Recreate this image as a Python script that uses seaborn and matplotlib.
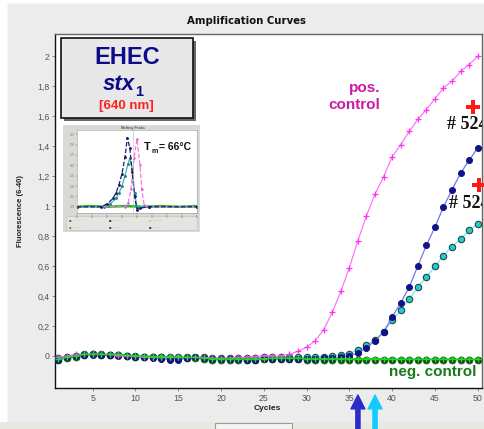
import numpy as np
import pandas as pd
import matplotlib.pyplot as plt
import seaborn as sns
from matplotlib.patches import Rectangle

# --- data ---
cycles = list(range(1, 51))

pos_control = [-0.01, 0.0, 0.01, 0.01, 0.01, 0.01, 0.01, 0.0, 0.0, 0.0,
               -0.01, -0.01, -0.01, -0.01, -0.01, -0.01, -0.01, -0.01, -0.015, -0.015,
               -0.015, -0.01, -0.01, -0.005, 0.0, 0.0, 0.0, 0.01, 0.03, 0.058,
               0.10, 0.174, 0.29, 0.43, 0.59, 0.77, 0.936, 1.08, 1.197, 1.33,
               1.41, 1.50, 1.58, 1.645, 1.717, 1.79, 1.835, 1.90, 1.946, 2.0]

sample_blue = [-0.025, -0.01, 0.0, 0.005, 0.005, 0.005, 0.005, 0.0, 0.0, -0.005,
               -0.01, -0.015, -0.02, -0.028, -0.028, -0.015, -0.01, -0.015, -0.02, -0.02,
               -0.02, -0.02, -0.025, -0.025, -0.02, -0.02, -0.02, -0.02, -0.02, -0.02,
               -0.02, -0.015, -0.015, -0.01, 0.0, 0.02, 0.055, 0.10, 0.16, 0.26,
               0.354, 0.46, 0.60, 0.738, 0.86, 0.995, 1.11, 1.22, 1.306, 1.39]

sample_cyan = [-0.015, -0.005, 0.0, 0.01, 0.01, 0.01, 0.005, 0.005, 0.0, 0.0,
               -0.005, -0.01, -0.01, -0.01, -0.01, -0.01, -0.01, -0.01, -0.015, -0.015,
               -0.015, -0.015, -0.015, -0.015, -0.01, -0.01, -0.01, -0.01, -0.01, -0.01,
               -0.005, -0.005, 0.0, 0.005, 0.015, 0.04, 0.07, 0.107, 0.158, 0.236,
               0.307, 0.38, 0.46, 0.526, 0.597, 0.67, 0.73, 0.78, 0.838, 0.88]

neg_control = [-0.02, -0.01, 0.0, 0.01, 0.01, 0.01, 0.01, 0.01, 0.005, 0.0,
               0.0, -0.005, -0.005, -0.01, -0.01, -0.01, -0.01, -0.015, -0.02, -0.02,
               -0.02, -0.02, -0.02, -0.02, -0.02, -0.015, -0.015, -0.015, -0.015, -0.02,
               -0.02, -0.02, -0.02, -0.02, -0.02, -0.02, -0.02, -0.02, -0.02, -0.022,
               -0.022, -0.022, -0.022, -0.022, -0.022, -0.022, -0.022, -0.022, -0.022, -0.022]

neg_control_2 = [-0.025, -0.015, -0.005, 0.005, 0.01, 0.005, 0.005, 0.005, 0.0, -0.005,
                 -0.005, -0.01, -0.01, -0.015, -0.015, -0.015, -0.015, -0.02, -0.025, -0.025,
                 -0.025, -0.025, -0.025, -0.025, -0.02, -0.02, -0.02, -0.02, -0.02, -0.025,
                 -0.025, -0.025, -0.025, -0.025, -0.025, -0.025, -0.025, -0.025, -0.025, -0.025,
                 -0.025, -0.025, -0.025, -0.025, -0.025, -0.025, -0.025, -0.025, -0.025, -0.025]

y_ticks = [0, 0.2, 0.4, 0.6, 0.8, 1.0, 1.2, 1.4, 1.6, 1.8, 2.0]
y_tick_labels = ['0', '0,2', '0,4', '0,6', '0,8', '1', '1,2', '1,4', '1,6', '1,8', '2']
x_ticks = [5, 10, 15, 20, 25, 30, 35, 40, 45, 50]

ct_blue = 36.0
ct_cyan = 38.0

# melting peak inset (small screenshot in the reference)
melt_temp_blue = [46, 54, 56, 58, 59, 60, 61, 62, 62.8, 63.6, 64.4, 65.2, 66, 67, 70, 86]
melt_blue = [0, 0.0, 0.04, 0.12, 0.2, 0.32, 0.48, 0.72, 1.0, 0.85, 0.5, 0.15, -0.04, -0.02, 0, 0]
melt_temp_cyan = [46, 55, 57, 59, 60, 61, 62, 63, 63.6, 64.4, 65.2, 66, 70, 86]
melt_cyan = [0, 0, 0.04, 0.12, 0.2, 0.3, 0.45, 0.62, 0.7, 0.55, 0.2, 0.0, 0, 0]
melt_temp_pink = [46, 62, 63, 64, 65, 66, 67, 67.6, 68.4, 70, 86]
melt_pink = [0, 0, 0.05, 0.25, 0.7, 0.98, 0.6, 0.25, 0.02, 0, 0]
melt_temp_green = [46, 50, 56, 62, 68, 74, 80, 86]
melt_green = [0.0, 0.01, 0.0, 0.01, 0.0, 0.01, 0.0, 0.01]

sns.set_style('white')
plt.rcParams['font.family'] = ['Liberation Sans', 'DejaVu Sans']

W, H = 485, 429
fig = plt.figure(figsize=(W / 100, H / 100), dpi=100, facecolor='white')

def fx(px):
    return px / W

def fy(py):
    return 1 - py / H

# window panel background (kept below the axes)
fig.patches.append(Rectangle((fx(7), fy(422)), 1 - fx(7), fy(3) - fy(422),
                             transform=fig.transFigure, facecolor='#ececec',
                             edgecolor='#f6f6f6', lw=1, zorder=-3))
fig.patches.append(Rectangle((0, 0), 1, fy(422), transform=fig.transFigure,
                             facecolor='#e9e9e1', edgecolor='none', zorder=-3))
fig.patches.append(Rectangle((fx(215), 0), fx(77), fy(423), transform=fig.transFigure,
                             facecolor='#f4f4f4', edgecolor='#9a9a9a', lw=0.8, zorder=-2))

fig.text(fx(247), fy(21), 'Amplification Curves', ha='center', va='center',
         fontsize=7.3, fontweight='bold', family='DejaVu Sans', color='#111111')

ax = fig.add_axes([fx(55), fy(388), fx(427), fy(34) - fy(388)])
ax.set_facecolor('white')

sns.lineplot(x=cycles, y=neg_control_2, ax=ax, color='#33cc33', lw=0.9,
             marker='o', markersize=5, markerfacecolor='#1e3a1e',
             markeredgecolor='#1a7a1a', markeredgewidth=0.6, zorder=3)
sns.lineplot(x=cycles, y=sample_cyan, ax=ax, color='#66eeee', lw=0.9,
             marker='o', markersize=4.6, markerfacecolor='#22cccc',
             markeredgecolor='#2a4444', markeredgewidth=0.8, zorder=4)
sns.lineplot(x=cycles, y=sample_blue, ax=ax, color='#7777ee', lw=0.9,
             marker='o', markersize=4.4, markerfacecolor='#10109a',
             markeredgecolor='#10106a', markeredgewidth=0.6, zorder=5)
sns.lineplot(x=cycles, y=pos_control, ax=ax, color='#ff66ff', lw=0.8,
             marker='+', markersize=5, markeredgecolor='#ff33ee',
             markeredgewidth=0.9, zorder=6)
sns.lineplot(x=cycles, y=neg_control, ax=ax, color='#22cc22', lw=1.0,
             marker='+', markersize=5, markeredgecolor='#22dd22',
             markeredgewidth=1.0, zorder=7)

ax.set_xlim(0.6, 50.5)
ax.set_ylim(-0.215, 2.15)
ax.set_xticks(x_ticks)
ax.set_yticks(y_ticks)
ax.set_yticklabels(y_tick_labels)
ax.tick_params(axis='both', labelsize=6.3, labelcolor='#555555', length=2.5,
               width=0.6, color='#777777', pad=1.5, direction='out',
               left=True, bottom=True)
for side in ['left', 'bottom']:
    ax.spines[side].set_color('#111111')
    ax.spines[side].set_linewidth(1.0)
for side in ['top', 'right']:
    ax.spines[side].set_color('#666666')
    ax.spines[side].set_linewidth(1.0)
ax.set_xlabel('')
ax.set_ylabel('')

fig.text(fx(267), fy(409), 'Cycles', ha='center', va='center', fontsize=6,
         fontweight='bold', color='#222222')
fig.text(fx(21), fy(211), 'Fluorescence (6-40)', ha='center', va='center',
         rotation=90, fontsize=5.5, fontweight='bold', color='#222222')

# annotations inside the plot
ax.text(38.6, 1.79, 'pos.', ha='right', va='center', fontsize=11,
        fontweight='bold', color='#cc1aa6')
ax.text(38.6, 1.675, 'control', ha='right', va='center', fontsize=11,
        fontweight='bold', color='#cc1aa6')
ax.text(49.8, -0.105, 'neg. control', ha='right', va='center', fontsize=11,
        fontweight='bold', color='#1a7a1a')
ax.plot([49.5], [1.665], marker='P', markersize=9.5, color='#ff1a1a',
        markeredgewidth=0, clip_on=False, zorder=8)
ax.plot([50.1], [1.14], marker='P', markersize=9.5, color='#ff1a1a',
        markeredgewidth=0, clip_on=False, zorder=8)
# sample labels run past the right frame and are cut there, as in the source
ax.text(46.4, 1.545, '# 524', ha='left', va='center', fontsize=13,
        fontweight='bold', family='Liberation Serif', color='#111111', clip_on=True)
ax.text(46.6, 1.02, '# 524', ha='left', va='center', fontsize=13,
        fontweight='bold', family='Liberation Serif', color='#111111', clip_on=True)

# Ct arrows below the axis
for ct, col in [(ct_blue, '#2b2bc8'), (ct_cyan, '#11ccff')]:
    ax.annotate('', xy=(ct, fy(395)), xytext=(ct, 0.0),
                xycoords=('data', 'figure fraction'),
                textcoords=('data', 'figure fraction'),
                arrowprops=dict(facecolor=col, edgecolor=col, width=3.0,
                                headwidth=10, headlength=10),
                annotation_clip=False)

# EHEC label box with shadow
bx, by, bw, bh = fx(61), fy(118), fx(132), fy(38) - fy(118)
fig.patches.append(Rectangle((bx + fx(3), by - (fy(0) - fy(3))), bw, bh,
                             transform=fig.transFigure, facecolor='#6a6a6a',
                             edgecolor='none', zorder=5))
fig.patches.append(Rectangle((bx, by), bw, bh, transform=fig.transFigure,
                             facecolor='#e8e8e8', edgecolor='#111111', lw=1.2, zorder=6))
fig.text(fx(127), fy(57), 'EHEC', ha='center', va='center', fontsize=17,
         fontweight='bold', color='#0c0c8a', zorder=7)
fig.text(fx(135), fy(84), 'stx', ha='right', va='center', fontsize=16,
         fontweight='bold', fontstyle='italic', color='#0c0c8a', zorder=7)
fig.text(fx(135.5), fy(92), '1', ha='left', va='center', fontsize=10.5,
         fontweight='bold', color='#0c0c8a', zorder=7)
fig.text(fx(126), fy(106), '[640 nm]', ha='center', va='center', fontsize=9.5,
         fontweight='bold', color='#ff2020', zorder=7)

# melting peak screenshot inset
fig.patches.append(Rectangle((fx(63), fy(232)), fx(137), fy(125) - fy(232),
                             transform=fig.transFigure, facecolor='#d9d9d6',
                             edgecolor='none', zorder=5))
fig.patches.append(Rectangle((fx(66), fy(230)), fx(131), fy(216) - fy(230),
                             transform=fig.transFigure, facecolor='#e4e4e0',
                             edgecolor='#bdbdbd', lw=0.4, zorder=5))
fig.text(fx(133), fy(128), 'Melting Peaks', ha='center', va='center',
         fontsize=2.5, fontweight='bold', color='#555555', zorder=6)
ins = fig.add_axes([fx(77), fy(213), fx(120), fy(130) - fy(213)], zorder=6)
ins.set_facecolor('white')
sns.lineplot(x=melt_temp_green, y=melt_green, ax=ins, color='#22bb22', lw=1.8)
sns.lineplot(x=melt_temp_cyan, y=melt_cyan, ax=ins, color='#33bbbb', lw=0.9,
             marker='.', markersize=2.5, markeredgecolor='#227777')
sns.lineplot(x=melt_temp_pink, y=melt_pink, ax=ins, color='#ff77dd', lw=0.9,
             ls='--', marker='.', markersize=2, markeredgecolor='#ee55cc')
sns.lineplot(x=melt_temp_blue, y=melt_blue, ax=ins, color='#1a1a70', lw=0.9,
             ls='--', marker='.', markersize=2.5, markeredgecolor='#1a1a60')
ins.axvline(64.5, color='#bbbbbb', lw=0.4)
ins.set_xlim(46, 86)
ins.set_ylim(-0.09, 1.11)
ins.set_xticks([46, 51, 56, 61, 66, 71, 76, 81, 86])
ins.set_yticks([0, 0.15, 0.3, 0.45, 0.6, 0.75, 0.9, 1.05])
ins.tick_params(labelsize=1.8, labelcolor='#777777', length=1, width=0.3, pad=0.5,
                left=True, bottom=True)
for s in ins.spines.values():
    s.set_color('#999999')
    s.set_linewidth(0.4)
ins.set_xlabel('')
ins.set_ylabel('')
ins.text(0.56, 0.8, 'T', transform=ins.transAxes, ha='left', va='center',
         fontsize=8, fontweight='bold', color='#111111')
ins.text(0.625, 0.74, 'm', transform=ins.transAxes, ha='left', va='center',
         fontsize=5, fontweight='bold', color='#111111')
ins.text(0.68, 0.8, '= 66°C', transform=ins.transAxes, ha='left', va='center',
         fontsize=7.5, fontweight='bold', color='#111111')

# tiny legend dots in the screenshot strip
legend_x = [70, 70, 110, 110, 150, 150]
legend_y = [220, 227, 220, 227, 220, 227]
legend_c = ['#884444', '#22bb22', '#333333', '#444444', '#cccc88', '#2a2a90']
for lx, ly, lc in zip(legend_x, legend_y, legend_c):
    fig.text(fx(lx), fy(ly), '\u25a0', ha='center', va='center', fontsize=3,
             color=lc, zorder=7)
    fig.text(fx(lx + 4), fy(ly), '\u2014\u2014', ha='left', va='center', fontsize=2.5,
             color='#aaaaaa', zorder=7)

fig.savefig('out.png', dpi=100, facecolor=fig.get_facecolor())
